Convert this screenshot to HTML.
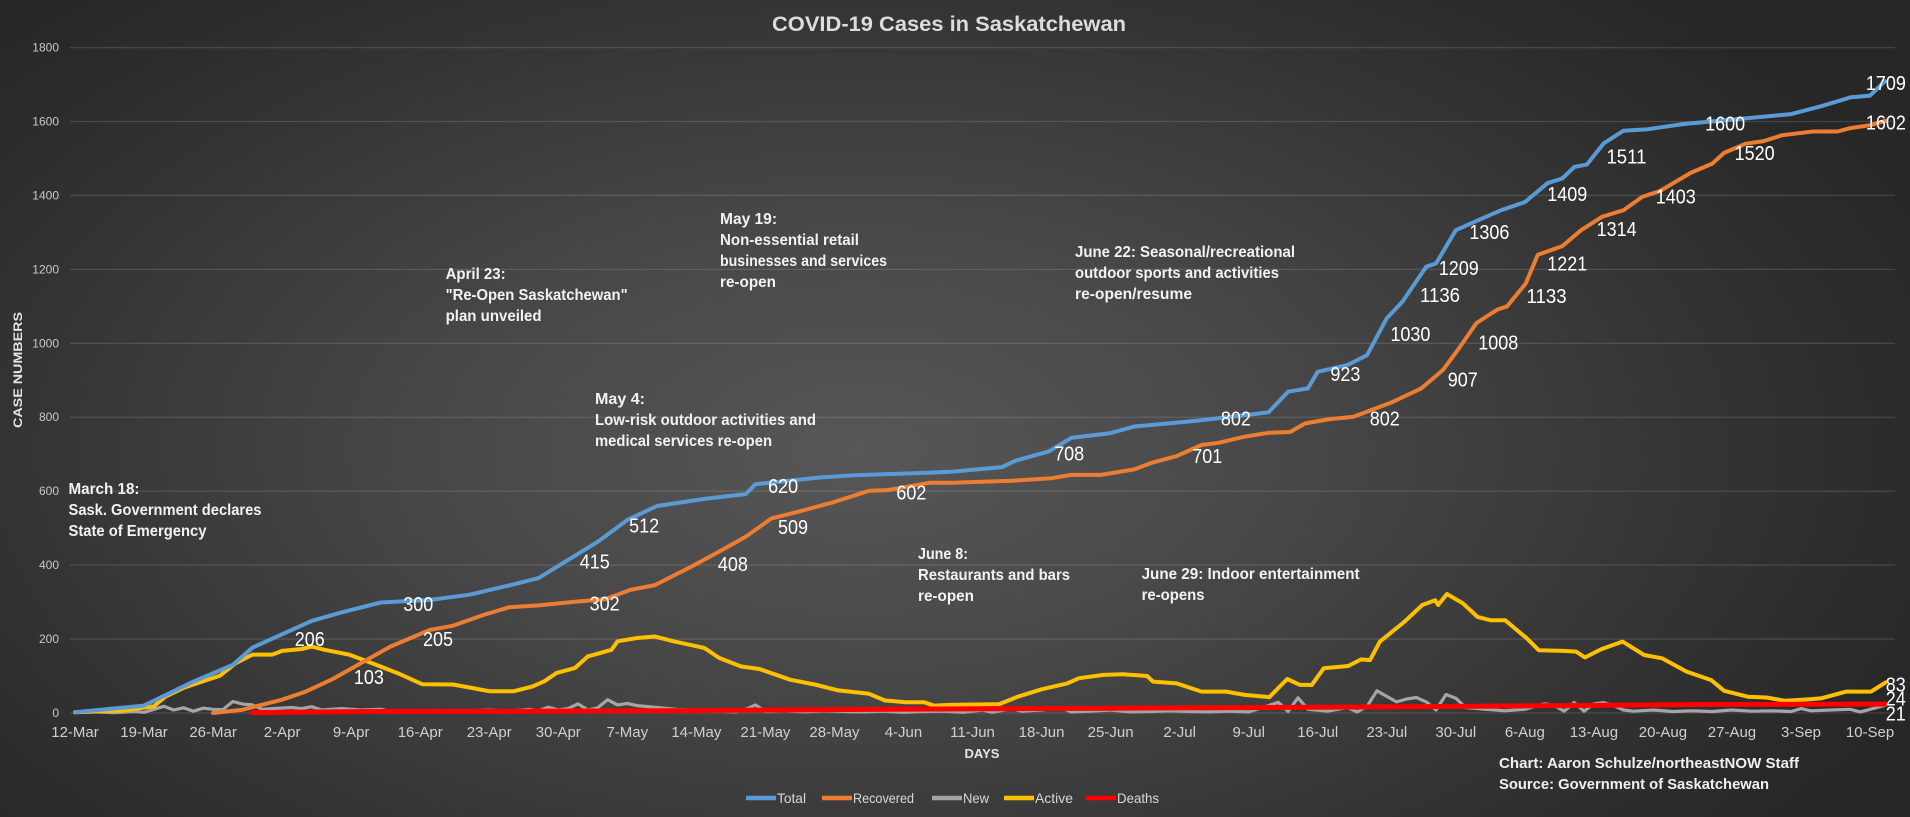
<!DOCTYPE html>
<html>
<head>
<meta charset="utf-8">
<style>
  html,body{margin:0;padding:0;width:1910px;height:817px;overflow:hidden;background:#2a2a2a;}
  #wrap{position:relative;width:1910px;height:817px;
    background:radial-gradient(ellipse 60% 75% at 45% 55%, #575757 0%, #464646 40%, #333 75%, #272727 100%);}
  svg{position:absolute;left:0;top:0;}
  text{font-family:"Liberation Sans Narrow","Liberation Sans",sans-serif;}
</style>
</head>
<body>
<div id="wrap">
<svg id="chart" width="1910" height="817" viewBox="0 0 1910 817">
  <text x="949" y="31" fill="#dcdcdc" font-size="21" font-weight="bold" text-anchor="middle" textLength="354" lengthAdjust="spacingAndGlyphs">COVID-19 Cases in Saskatchewan</text>
  <g id="grid"></g>
  <g id="yticks"></g>
  <g id="xticks"></g>
  <text transform="translate(22,370) rotate(-90)" fill="#e6e6e6" font-size="12" font-weight="bold" text-anchor="middle" textLength="116" lengthAdjust="spacingAndGlyphs">CASE NUMBERS</text>
  <text x="982" y="758" fill="#e6e6e6" font-size="13" font-weight="bold" text-anchor="middle">DAYS</text>
  <g id="annotations"></g>
  <g id="series"></g>
  <g id="labels"></g>
  <g id="legend"></g>
  <text x="1499" y="768" fill="#f0f0f0" font-size="15" font-weight="bold" textLength="300" lengthAdjust="spacingAndGlyphs">Chart: Aaron Schulze/northeastNOW Staff</text>
  <text x="1499" y="789" fill="#f0f0f0" font-size="15" font-weight="bold" textLength="270" lengthAdjust="spacingAndGlyphs">Source: Government of Saskatchewan</text>
</svg>
</div>
<script>
// ---- data (day index 0 = 12-Mar) ----
const yTicks = [0,200,400,600,800,1000,1200,1400,1600,1800];
const xTickLabels = ["12-Mar","19-Mar","26-Mar","2-Apr","9-Apr","16-Apr","23-Apr","30-Apr","7-May","14-May","21-May","28-May","4-Jun","11-Jun","18-Jun","25-Jun","2-Jul","9-Jul","16-Jul","23-Jul","30-Jul","6-Aug","13-Aug","20-Aug","27-Aug","3-Sep","10-Sep"];

const totalDays = [0,7,12,16,18,24,27,31,36,40,44.5,47,50,53,56,59,64,68,69,75.5,79,86.5,89,94,95.3,98.7,101,105,107.4,113.6,121,123,125,126,129,131,133,134.6,137,138,140,142.7,144.6,147,149.3,150.8,152,153.3,155,157,159.5,163,169.5,174,177,180,182,183.5];
const totalValues = [2,20,85,130,177,249,272,299,306,320,348,365,414,463,522,560,580,592,619,637,643,650,653,665,682,707,744,757,775,790,813,869,878,923,941,968,1068,1113,1207,1216,1306,1338,1360,1382,1433,1446,1477,1484,1541,1575,1579,1593,1609,1620,1641,1665,1670,1709];

const recDays = [14,17,21,23.4,26,29,32,36,38.3,41.4,44,47,50.7,53.8,56.3,58.8,62.5,65,68,70.6,73,77,80.5,82.4,86.7,89,95,99,101,104,107.4,109.2,111.7,114.2,116,118.5,121,123.2,124.7,127.2,129.6,133.4,136.5,138.7,140.2,142.1,144.2,145.2,147.1,148.3,150.8,152.7,154.8,157,158.9,160.7,163.8,166,167.2,169.4,171.2,173.1,176.2,178.7,180,182,183.6];
const recValues = [0,9,36,58,90,135,180,225,236,265,286,291,301,308,333,346,396,432,477,526,542,571,601,603,623,623,628,635,644,644,659,677,695,725,731,747,758,760,783,795,801,839,878,928,982,1055,1091,1100,1162,1239,1263,1306,1342,1360,1396,1412,1461,1486,1515,1540,1547,1563,1573,1573,1582,1590,1602];

const activeDays = [0,2,5,8,9.2,11,13,14.7,16.3,18,20,21,23,24,25.3,27.8,29.6,32.7,35.2,38.3,40.2,42,44.5,46.4,47.6,48.8,50.7,52,54.4,55,57,58.8,60.7,63.8,65.3,67.5,69.4,72.5,75,77.4,80.5,82.1,84.2,86.1,87.1,88.7,93.7,95.6,98,100.6,101.8,104.3,106.2,108.7,109.3,111.7,114.2,116.7,118.6,121.1,122.9,124.2,125.4,126.6,129.1,130.4,131.3,132.3,134.8,136.6,137.9,138.2,139.1,140.7,142.2,143.5,145,147.2,148.4,150.9,152.2,153.1,154.7,156.9,159.1,160.9,163.4,165.9,167.2,169.6,171.5,173.4,175.9,177.1,179.6,182.1,183.6];
const activeValues = [2,4,7,18,45,68,86,101,135,158,158,168,173,180,171,158,140,108,78,77,68,59,59,72,86,108,122,153,171,194,203,207,194,176,149,126,119,90,77,61,52,34,29,29,20,22,24,44,64,80,94,103,105,100,85,80,58,58,49,43,92,76,76,121,127,145,143,193,247,292,305,292,322,297,260,251,251,202,170,168,166,150,172,193,157,148,112,89,60,44,42,33,37,40,58,58,83];

const newDays = [0,2,4,6,7,9,10,11,12,13,14,15,16,17,18,19,20,22,23,24,25,27,29,31,32,34,36,38,40,42,44,46,47,48,49,50,51,52,53,54,55,56,57,59,61,63,65,67,68,69,70,72,74,76,78,80,82,84,86,88,90,92,93,95,96,98,100,101,103,105,107,109,111,113,115,117,119,121,122,123,124,125,127,129,130,131,132,133,134,135,136,137,138,139,140,141,143,145,147,149,150,151,152,153,154,155,156,157,158,160,162,164,166,168,170,172,174,175,176,178,180,181,183.6];
const newValues = [1,3,1,4,2,18,8,14,5,13,10,9,31,24,22,10,12,15,12,17,8,12,8,10,4,5,3,5,6,8,5,10,6,16,8,12,25,8,14,36,22,26,20,15,10,8,5,3,10,22,4,6,3,6,4,3,5,2,4,5,2,8,2,12,5,8,14,3,5,8,3,4,6,4,3,5,3,20,29,4,41,10,5,15,3,18,60,45,30,38,42,30,8,50,40,15,10,6,10,25,20,5,28,5,25,28,20,8,5,8,4,6,4,8,5,6,4,12,6,8,10,3,21];

const deathDays = [18,30,45,60,75,90,105,120,135,150,165,183.6];
const deathValues = [1,4,5,6,9,11,13,15,17,20,23,24];

const labelTexts = ["206","103","300","205","302","415","408","512","509","620","602","708","701","802","802","923","907","1030","1008","1136","1133","1209","1221","1306","1314","1409","1403","1511","1520","1600","1602","1709","83","24","21"];
const labelDays  = [23.8,29.8,34.8,36.8,53.7,52.7,66.7,57.7,72.8,71.8,84.8,100.8,114.8,117.7,132.8,128.8,140.7,135.4,144.3,138.4,149.2,140.3,151.3,143.4,156.3,151.3,162.3,157.3,170.3,167.3,183.6,183.6,184.6,184.6,184.6];
const labelPosValues = [206,103,300,205,302,415,408,512,509,620,602,708,701,802,802,923,907,1030,1008,1136,1133,1209,1221,1306,1314,1409,1403,1511,1520,1600,1602,1709,83,44,4];

// ---- scales ----
const X0 = 75, PX_DAY = 9.863, Y0 = 713, PX_VAL = 0.3697;
function xScale(d){ return X0 + d*PX_DAY; }
function yScale(v){ return Y0 - v*PX_VAL; }
const NS = "http://www.w3.org/2000/svg";
function mk(tag, attrs, parent){ const e=document.createElementNS(NS,tag); for(const k in attrs) e.setAttribute(k,attrs[k]); parent.appendChild(e); return e; }

// grid + y ticks
const grid = document.getElementById('grid'), yt = document.getElementById('yticks');
yTicks.forEach(v=>{
  const l = mk('line',{x1:70,x2:1895,y1:yScale(v),y2:yScale(v),stroke:'rgba(255,255,255,0.13)','stroke-width':1.3},grid);
  
  
  const t = mk('text',{x:59,y:yScale(v)+4,fill:'#c8c8c8','font-size':12,'text-anchor':'end'},yt);
  t.textContent = v;
  
  
});
// x ticks
const xt = document.getElementById('xticks');
xTickLabels.forEach((s,i)=>{
  const t = mk('text',{x:xScale(i*7),y:737,fill:'#d0d0d0','font-size':15,'text-anchor':'middle'},xt);
  t.textContent = s;
  
  
});

// annotations
const annLines = [
  [68.5,488,["March 18:","Sask. Government declares","State of Emergency"],[71,193,138]],
  [445.6,273,["April 23:","\"Re-Open Saskatchewan\"","plan unveiled"],[60,182,96]],
  [720,218,["May 19:","Non-essential retail","businesses and services","re-open"],[57,139,167,56]],
  [595,398,["May 4:","Low-risk outdoor activities and","medical services re-open"],[50,221,177]],
  [918,553,["June 8:","Restaurants and bars","re-open"],[50,152,56]],
  [1075,251,["June 22: Seasonal/recreational","outdoor sports and activities","re-open/resume"],[220,204,117]],
  [1141.6,573,["June 29: Indoor entertainment","re-opens"],[218,63]]
];
const ann = document.getElementById('annotations');
annLines.forEach((a,k)=>{
  a[2].forEach((s,i)=>{
    const t = mk('text',{x:a[0],y:a[1]+i*21+6,fill:'#f2f2f2','font-size':16,'font-weight':'bold',textLength:a[3][i],lengthAdjust:'spacingAndGlyphs'},ann);
    t.textContent = s;
    
    
  });
});

// series
const seriesG = document.getElementById('series');
function drawLine(days, vals, color, w, name){
  const pts = days.map((d,i)=>xScale(d).toFixed(1)+','+yScale(vals[i]).toFixed(1)).join(' ');
  const p = mk('polyline',{points:pts,fill:'none',stroke:color,'stroke-width':w,'stroke-linejoin':'round','stroke-linecap':'round'},seriesG);
  
  
}
drawLine(newDays,newValues,'#a5a5a5',3.2,'series-new-line');
drawLine(activeDays,activeValues,'#ffc000',4,'series-active-line');
drawLine(recDays,recValues,'#ed7d31',4,'series-recovered-line');
drawLine(totalDays,totalValues,'#5b9bd5',4,'series-total-line');
drawLine(deathDays,deathValues,'#ff0000',5,'series-deaths-line');

// data labels
const lg = document.getElementById('labels');
labelTexts.forEach((s,i)=>{
  const t = mk('text',{x:xScale(labelDays[i]),y:yScale(labelPosValues[i])+9,fill:'#ffffff','font-size':20,'text-anchor':'middle',textLength:s.length*10,lengthAdjust:'spacingAndGlyphs'},lg);
  t.textContent = s;
  
  
});

// legend
const legendItems = [["Total","#5b9bd5",746,29],["Recovered","#ed7d31",822,61],["New","#a5a5a5",932,26],["Active","#ffc000",1004,38],["Deaths","#ff0000",1086,42]];
const leg = document.getElementById('legend');
legendItems.forEach(it=>{
  const g = mk('g',{},leg);
  
  
  mk('line',{x1:it[2],x2:it[2]+30,y1:798,y2:798,stroke:it[1],'stroke-width':4.5},g);
  const t = mk('text',{x:it[2]+31,y:803,fill:'#d8d8d8','font-size':14,textLength:it[3],lengthAdjust:'spacingAndGlyphs'},g);
  t.textContent = it[0];
});
</script>
</body>
</html>
